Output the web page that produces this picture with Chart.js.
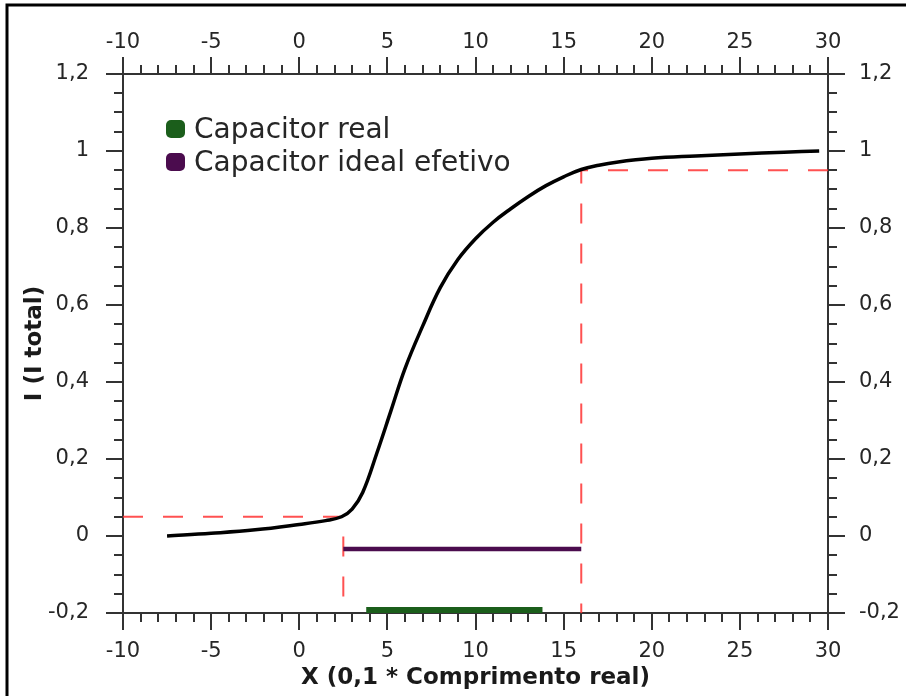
<!DOCTYPE html>
<html>
<head>
<meta charset="utf-8">
<script src="https://cdn.jsdelivr.net/npm/chart.js@4"></script>
<style>
    body { margin: 0; background: #fff; }
    #wrap { width: 906px; height: 696px; }
</style>
</head>
<body>
<div id="wrap"><canvas id="chart" width="906" height="696"></canvas></div>
<script>
// 곡선 데이터 (I / I total)
const curveX = [-7.5, -5, -2.5, 0, 1.5, 2.4, 3, 3.6, 4.4, 5.2, 6, 7, 8, 9, 10, 11, 12, 13, 14, 15, 16, 17, 18, 20, 22.5, 25, 27.5, 29.5];
const curveY = [0, 0.007, 0.016, 0.03, 0.04, 0.05, 0.07, 0.113, 0.215, 0.325, 0.435, 0.545, 0.645, 0.718, 0.772, 0.815, 0.85, 0.882, 0.91, 0.933, 0.952, 0.963, 0.971, 0.981, 0.987, 0.992, 0.997, 1.0];

// 5% / 95% 기준선
const limitX = [2.5, 16];
const limitY = [0.05, 0.95];

// 구간 막대
const idealRange = [2.5, 16];
const idealLevel = -0.034;
const realRange = [3.8, 13.8];
const realLevel = -0.192;

// 눈금
const xTicks = [-10, -5, 0, 5, 10, 15, 20, 25, 30];
const yTicks = [-0.2, 0, 0.2, 0.4, 0.6, 0.8, 1, 1.2];
const xMinorStep = 1;
const yMinorStep = 0.05;

const inkColor = '#262626';
const dashRed = 'rgba(255, 50, 50, 0.85)';

function fmt(v) {
    return String(Number(v.toFixed(2))).replace('.', ',');
}

// 눈금 그리기 (바깥쪽)
const tickPlugin = {
    id: 'tickMarks',
    afterDraw(chart) {
        const ctx = chart.ctx;
        ctx.save();
        ctx.strokeStyle = '#333';
        ctx.lineWidth = 2;
        ['x', 'x2', 'y', 'y2'].forEach(id => {
            const s = chart.scales[id];
            const horiz = s.isHorizontal();
            const step = horiz ? xMinorStep : yMinorStep;
            const majors = horiz ? xTicks : yTicks;
            const n = Math.round((s.max - s.min) / step);
            for (let i = 0; i <= n; i++) {
                const v = s.min + i * step;
                const major = majors.some(m => Math.abs(m - v) < 1e-6);
                const len = major ? 17 : 9;
                const p = Math.round(s.getPixelForValue(v));
                ctx.beginPath();
                if (id === 'x') { ctx.moveTo(p, s.top); ctx.lineTo(p, s.top + len); }
                if (id === 'x2') { ctx.moveTo(p, s.bottom); ctx.lineTo(p, s.bottom - len); }
                if (id === 'y') { ctx.moveTo(s.right, p); ctx.lineTo(s.right - len, p); }
                if (id === 'y2') { ctx.moveTo(s.left, p); ctx.lineTo(s.left + len, p); }
                ctx.stroke();
            }
        });
        // 바깥 테두리
        ctx.strokeStyle = '#000';
        ctx.lineWidth = 3;
        ctx.beginPath();
        ctx.moveTo(7, 700);
        ctx.lineTo(7, 5);
        ctx.lineTo(910, 5);
        ctx.stroke();
        ctx.restore();
    }
};

// 범례 (차트 영역 안쪽)
const legendPlugin = {
    id: 'innerLegend',
    afterDraw(chart) {
        const ctx = chart.ctx;
        const items = chart.data.datasets.filter(d => d.inLegend);
        ctx.save();
        ctx.font = '28px "DejaVu Sans"';
        ctx.textBaseline = 'alphabetic';
        items.forEach((d, i) => {
            const y = 120 + i * 33;
            ctx.fillStyle = d.borderColor;
            ctx.beginPath();
            ctx.roundRect(166, y, 19, 18, 5);
            ctx.fill();
            ctx.fillStyle = '#262626';
            ctx.fillText(d.label, 194, y + 18);
        });
        ctx.restore();
    }
};

const tickFont = { family: 'DejaVu Sans', size: 21 };
const titleFont = { family: 'DejaVu Sans', size: 23, weight: 'bold' };

function setTicks(values) {
    return function(scale) {
        scale.ticks = values.map(v => ({ value: v }));
    };
}

new Chart(document.getElementById('chart'), {
    type: 'line',
    data: {
        datasets: [{
            label: 'I',
            data: curveX.map((x, i) => ({ x: x, y: curveY[i] })),
            borderColor: '#000',
            borderWidth: 3.5,
            pointRadius: 0,
            tension: 0.4
        }, {
            label: 'Capacitor real',
            inLegend: true,
            data: realRange.map(x => ({ x: x, y: realLevel })),
            borderColor: '#1b5e1b',
            borderWidth: 6,
            pointRadius: 0,
            borderCapStyle: 'butt'
        }, {
            label: 'Capacitor ideal efetivo',
            inLegend: true,
            data: idealRange.map(x => ({ x: x, y: idealLevel })),
            borderColor: '#4b0c4e',
            borderWidth: 4.5,
            pointRadius: 0
        }, {
            label: '5%',
            data: [{ x: -10, y: limitY[0] }, { x: limitX[0], y: limitY[0] }, { x: limitX[0], y: -0.2 }],
            borderColor: dashRed,
            borderWidth: 2,
            borderDash: [20, 20],
            pointRadius: 0
        }, {
            label: '95%',
            data: [{ x: 30, y: limitY[1] }, { x: limitX[1], y: limitY[1] }, { x: limitX[1], y: -0.2 }],
            borderColor: dashRed,
            borderWidth: 2,
            borderDash: [20, 20],
            pointRadius: 0
        }]
    },
    options: {
        responsive: false,
        animation: false,
        layout: { padding: 0 },
        plugins: {
            legend: { display: false },
            tooltip: { enabled: false }
        },
        scales: {
            x: {
                type: 'linear',
                position: 'bottom',
                min: -10, max: 30,
                afterBuildTicks: setTicks(xTicks),
                afterFit: s => { s.height = 83; },
                ticks: { font: tickFont, color: inkColor, padding: 18, maxRotation: 0, autoSkip: false, callback: v => fmt(v) },
                grid: { display: false },
                border: { display: true, color: '#333', width: 2 },
                title: { display: true, text: 'X (0,1 * Comprimento real)', font: titleFont, color: '#1a1a1a', padding: { top: 0, bottom: 4 } }
            },
            x2: {
                type: 'linear',
                position: 'top',
                min: -10, max: 30,
                afterBuildTicks: setTicks(xTicks),
                afterFit: s => { s.height = 74; },
                ticks: { font: tickFont, color: inkColor, padding: 11, maxRotation: 0, autoSkip: false, callback: v => fmt(v) },
                grid: { display: false },
                border: { display: true, color: '#333', width: 2 }
            },
            y: {
                type: 'linear',
                position: 'left',
                min: -0.2, max: 1.2,
                afterBuildTicks: setTicks(yTicks),
                afterFit: s => { s.width = 123; },
                ticks: { font: tickFont, color: inkColor, padding: 26, autoSkip: false, callback: v => fmt(v) },
                grid: { display: false },
                border: { display: true, color: '#333', width: 2 },
                title: { display: true, text: 'I (I total)', font: titleFont, color: '#1a1a1a', padding: { top: 21, bottom: 0 } }
            },
            y2: {
                type: 'linear',
                position: 'right',
                min: -0.2, max: 1.2,
                afterBuildTicks: setTicks(yTicks),
                afterFit: s => { s.width = 78; },
                ticks: { font: tickFont, color: inkColor, padding: 23, autoSkip: false, callback: v => fmt(v) },
                grid: { display: false },
                border: { display: true, color: '#333', width: 2 }
            }
        }
    },
    plugins: [tickPlugin, legendPlugin]
});
</script>
</body>
</html>
